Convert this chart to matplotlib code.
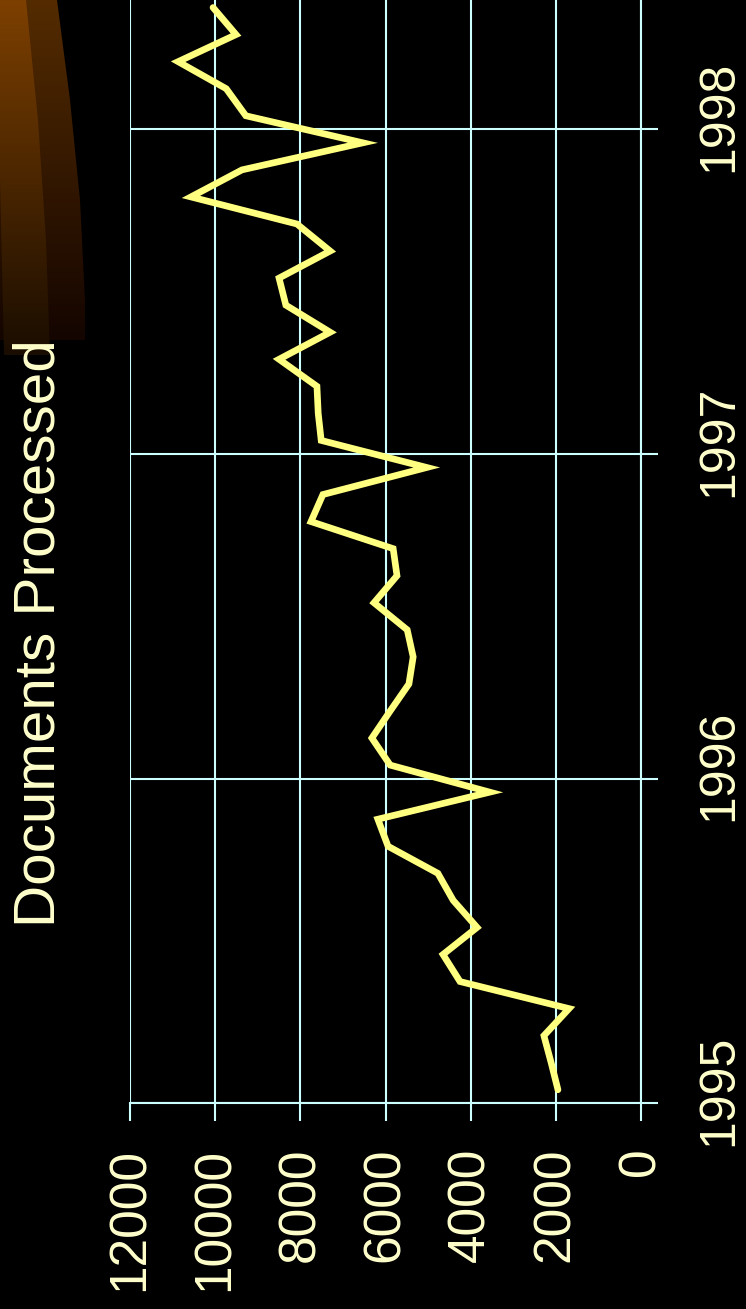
import numpy as np
import pandas as pd
import matplotlib
matplotlib.use('Agg')
import matplotlib.pyplot as plt
import matplotlib.transforms as mtransforms
from matplotlib.patches import Polygon

plt.rcParams['font.family'] = ['Liberation Sans', 'DejaVu Sans']

# monthly counts, Jan 1995 .. May 1998
months = pd.period_range('1995-01', periods=41, freq='M')
docs = [1950, 2110, 2280, 1690, 4250, 4650, 3850, 4410, 4770, 5940,
        6180, 3550, 5890, 6320, 5890, 5450, 5350, 5490, 6270, 5730,
        5820, 7750, 7470, 5030, 7510, 7580, 7610, 8500, 7300, 8340,
        8500, 7300, 8080, 10570, 9370, 6530, 9280, 9740, 10870, 9510,
        10050]
value_ticks = [0, 2000, 4000, 6000, 8000, 10000, 12000]
year_ticks = [1995, 1996, 1997, 1998]
title = 'Documents Processed'

txt_col = '#FFFFCC'
grid_col = '#CCFFFF'
line_col = '#FFFF80'

t = np.array([p.year + (p.month - 0.5) / 12 for p in months])

fig = plt.figure(figsize=(7.46, 13.09), dpi=100, facecolor='black')

# slide decoration in the top-left corner
bg = fig.add_axes([0, 0, 1, 1], zorder=-1)
bg.set_xlim(0, 746)
bg.set_ylim(1309, 0)
bg.axis('off')
grad = np.linspace(0, 1, 256)[:, None]

def band(pts, top, bottom, y1):
    cols = np.array(top) * (1 - grad) + np.array(bottom) * grad
    img = np.repeat(cols[:, None, :], 2, axis=1)
    im = bg.imshow(img, extent=[0, 100, y1, 0], aspect='auto', interpolation='bilinear')
    poly = Polygon(pts, closed=True, transform=bg.transData, facecolor='none', edgecolor='none')
    bg.add_patch(poly)
    im.set_clip_path(poly)

band([(0, 0), (57, 0), (70, 100), (80, 200), (85, 300), (85, 340), (0, 340)],
     (0.33, 0.17, 0.0), (0.08, 0.02, 0.0), 340)
band([(0, 0), (26, 0), (38, 120), (46, 240), (50, 355), (4, 355), (0, 180)],
     (0.49, 0.25, 0.0), (0.10, 0.05, 0.0), 355)

ax = fig.add_axes([130 / 746, 205.7 / 1309, 511 / 746, 1103.3 / 1309])
ax.set_facecolor('none')
ax.plot(docs, t, color=line_col, lw=4.8, solid_joinstyle='miter', solid_capstyle='round', zorder=3)

ax.set_xlim(12000, 0)
ax.set_ylim(1995, 1995 + 1103.3 / 324.67)
ax.set_xticks(value_ticks)
ax.set_xticklabels([str(v) for v in value_ticks])
ax.set_yticks(year_ticks)
ax.set_yticklabels([str(y) for y in year_ticks])
ax.grid(True, color=grid_col, lw=1.5, zorder=1)

for s in ['top', 'left']:
    ax.spines[s].set_visible(False)
for s in ['bottom', 'right']:
    ax.spines[s].set_color(grid_col)
    ax.spines[s].set_linewidth(1.5)

ax.yaxis.tick_right()
ax.tick_params(axis='x', direction='out', length=13, width=1.5, color=grid_col,
               labelcolor=txt_col, labelsize=37, pad=19, labelrotation=90)
ax.tick_params(axis='y', direction='out', length=12, width=1.5, color=grid_col,
               labelcolor=txt_col, labelsize=36, pad=28, labelrotation=90)

shift = mtransforms.ScaledTranslation(0, 13 / 100, fig.dpi_scale_trans)
for tk in ax.yaxis.get_major_ticks():
    tk.label2.set_va('center')
    tk.label2.set_transform(tk.label2.get_transform() + shift)

fig.text(55 / 746, 1 - 633.5 / 1309, title, rotation=90, rotation_mode='anchor',
         ha='center', va='baseline', fontsize=42, color=txt_col)

fig.savefig('out.png', dpi=100, facecolor='black')
